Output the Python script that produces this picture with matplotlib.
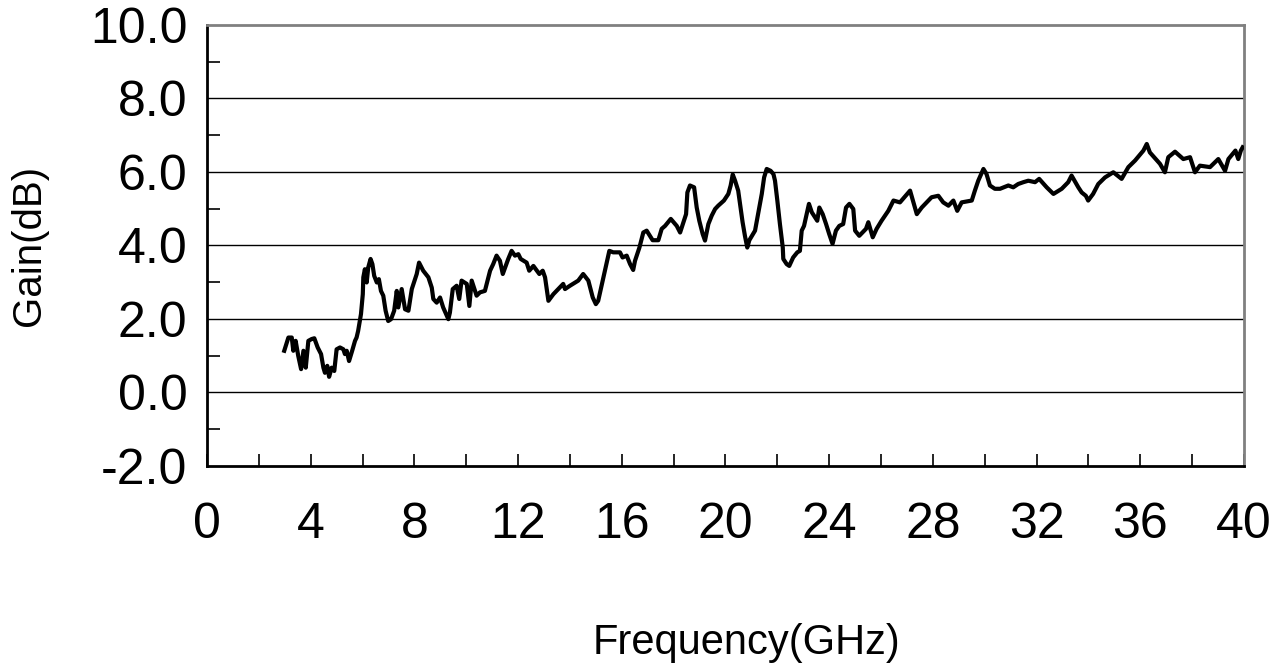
import matplotlib
matplotlib.use("Agg")
import matplotlib.pyplot as plt
from matplotlib.ticker import MultipleLocator

# gain curve (GHz, dB)
freq = [2.98, 3.14, 3.27, 3.33, 3.42, 3.52, 3.63, 3.72, 3.81, 3.91, 4.04, 4.14,
        4.27, 4.40, 4.49, 4.55, 4.64, 4.71, 4.81, 4.91, 5.00, 5.13, 5.26, 5.32,
        5.39, 5.48, 5.60, 5.71, 5.77, 5.83, 5.94, 6.01, 6.03, 6.09, 6.16, 6.22,
        6.31, 6.38, 6.45, 6.55, 6.63, 6.71, 6.80, 6.89, 6.99, 7.10, 7.22, 7.32,
        7.38, 7.51, 7.64, 7.77, 7.90, 8.09, 8.18, 8.34, 8.54, 8.67, 8.73, 8.86,
        8.99, 9.11, 9.31, 9.37, 9.48, 9.63, 9.73, 9.82, 10.02, 10.12, 10.21, 10.40,
        10.53, 10.72, 10.92, 11.04, 11.17, 11.30, 11.41, 11.62, 11.75, 11.88, 12.01, 12.10,
        12.33, 12.43, 12.59, 12.82, 12.95, 13.04, 13.17, 13.36, 13.55, 13.74, 13.81, 14.00,
        14.32, 14.51, 14.71, 14.88, 15.00, 15.09, 15.22, 15.35, 15.52, 15.67, 15.93, 16.03,
        16.19, 16.32, 16.44, 16.51, 16.68, 16.83, 16.96, 17.19, 17.41, 17.54, 17.67, 17.89,
        18.12, 18.25, 18.48, 18.53, 18.63, 18.79, 18.89, 18.99, 19.12, 19.21, 19.34, 19.47,
        19.60, 19.72, 19.94, 20.11, 20.20, 20.28, 20.37, 20.49, 20.56, 20.66, 20.75, 20.84,
        20.92, 21.14, 21.27, 21.40, 21.49, 21.59, 21.74, 21.85, 21.91, 22.00, 22.10, 22.21,
        22.23, 22.36, 22.46, 22.61, 22.77, 22.87, 22.94, 23.03, 23.22, 23.33, 23.54, 23.62,
        23.75, 23.88, 24.00, 24.13, 24.26, 24.39, 24.54, 24.65, 24.78, 24.93, 25.00, 25.16,
        25.42, 25.51, 25.68, 25.83, 26.02, 26.28, 26.48, 26.73, 27.12, 27.38, 27.57, 27.95,
        28.21, 28.40, 28.60, 28.79, 28.94, 29.11, 29.50, 29.62, 29.75, 29.95, 30.07, 30.20,
        30.39, 30.59, 30.91, 31.10, 31.29, 31.49, 31.68, 31.94, 32.10, 32.39, 32.65, 32.97,
        33.22, 33.35, 33.61, 33.74, 33.90, 33.99, 34.18, 34.38, 34.64, 34.96, 35.28, 35.54,
        35.80, 36.12, 36.25, 36.37, 36.76, 36.95, 37.08, 37.34, 37.66, 37.92, 38.11, 38.30,
        38.69, 39.01, 39.27, 39.40, 39.67, 39.78, 39.88, 39.95]
gain = [1.13, 1.49, 1.49, 1.13, 1.40, 0.99, 0.63, 1.13, 0.67, 1.40, 1.45, 1.47,
        1.22, 1.04, 0.67, 0.53, 0.72, 0.42, 0.67, 0.58, 1.17, 1.22, 1.17, 1.04,
        1.13, 0.85, 1.13, 1.40, 1.49, 1.67, 2.13, 2.67, 3.13, 3.35, 2.99, 3.40,
        3.63, 3.49, 3.17, 2.99, 3.08, 2.76, 2.63, 2.22, 1.94, 1.99, 2.22, 2.76,
        2.31, 2.81, 2.26, 2.22, 2.81, 3.22, 3.53, 3.31, 3.13, 2.85, 2.54, 2.44,
        2.58, 2.31, 1.99, 2.17, 2.81, 2.90, 2.54, 3.04, 2.95, 2.35, 3.04, 2.63,
        2.72, 2.76, 3.31, 3.49, 3.72, 3.58, 3.22, 3.63, 3.85, 3.72, 3.76, 3.63,
        3.53, 3.31, 3.44, 3.22, 3.31, 3.13, 2.49, 2.67, 2.81, 2.95, 2.81, 2.90,
        3.04, 3.22, 3.04, 2.58, 2.40, 2.49, 2.90, 3.31, 3.85, 3.81, 3.81, 3.67,
        3.72, 3.49, 3.33, 3.58, 3.94, 4.35, 4.40, 4.14, 4.14, 4.45, 4.53, 4.72,
        4.53, 4.35, 4.85, 5.44, 5.63, 5.58, 5.03, 4.67, 4.31, 4.13, 4.58, 4.81,
        4.99, 5.08, 5.22, 5.40, 5.63, 5.93, 5.76, 5.49, 5.13, 4.63, 4.26, 3.94,
        4.14, 4.40, 4.90, 5.40, 5.85, 6.08, 6.03, 5.94, 5.76, 5.22, 4.58, 3.94,
        3.63, 3.49, 3.44, 3.67, 3.81, 3.85, 4.40, 4.53, 5.13, 4.90, 4.67, 5.03,
        4.85, 4.58, 4.31, 4.04, 4.40, 4.53, 4.58, 5.03, 5.13, 4.99, 4.40, 4.26,
        4.45, 4.63, 4.22, 4.45, 4.67, 4.94, 5.22, 5.17, 5.49, 4.85, 5.03, 5.31,
        5.35, 5.17, 5.08, 5.22, 4.94, 5.17, 5.22, 5.49, 5.76, 6.08, 5.94, 5.63,
        5.54, 5.54, 5.63, 5.58, 5.67, 5.72, 5.76, 5.72, 5.81, 5.58, 5.40, 5.54,
        5.72, 5.90, 5.58, 5.44, 5.35, 5.22, 5.40, 5.67, 5.85, 5.99, 5.81, 6.13,
        6.31, 6.58, 6.76, 6.53, 6.22, 5.99, 6.40, 6.55, 6.35, 6.40, 5.99, 6.17,
        6.13, 6.35, 6.03, 6.35, 6.58, 6.35, 6.58, 6.67]

x_ticks = [0, 4, 8, 12, 16, 20, 24, 28, 32, 36, 40]
y_ticks = [-2, 0, 2, 4, 6, 8, 10]

plt.rcParams['font.family'] = ['Liberation Sans', 'DejaVu Sans']

fig = plt.figure(figsize=(12.73, 6.68), dpi=100)
ax = fig.add_axes([0.1626, 0.3028, 0.8146, 0.6598])

# horizontal grid lines
for yv in y_ticks[1:-1]:
    ax.axhline(yv, color='black', lw=1.0, zorder=1)

ax.plot(freq, gain, color='black', lw=3, solid_joinstyle='round', zorder=3)

ax.set_xlim(0, 40)
ax.set_ylim(-2, 10)
ax.set_xticks(x_ticks)
ax.set_yticks(y_ticks)
ax.set_yticklabels(["%.1f" % v for v in y_ticks])
ax.xaxis.set_minor_locator(MultipleLocator(2))
ax.yaxis.set_minor_locator(MultipleLocator(1))

ax.tick_params(axis='x', which='both', direction='in', length=9, width=1.2,
               labelsize=36, pad=26)
ax.tick_params(axis='y', which='major', direction='in', length=0,
               labelsize=36, pad=14)
ax.tick_params(axis='y', which='minor', direction='in', length=9, width=1.2)

ax.set_xlabel("Frequency(GHz)", fontsize=30, labelpad=54)
ax.xaxis.label.set_x(0.52)
ax.set_ylabel("Gain(dB)", fontsize=29, labelpad=30)

for side in ['left', 'bottom']:
    ax.spines[side].set_color('black')
    ax.spines[side].set_linewidth(2)
for side in ['top', 'right']:
    ax.spines[side].set_color('#808080')
    ax.spines[side].set_linewidth(2)

fig.savefig("out.png", dpi=100)
